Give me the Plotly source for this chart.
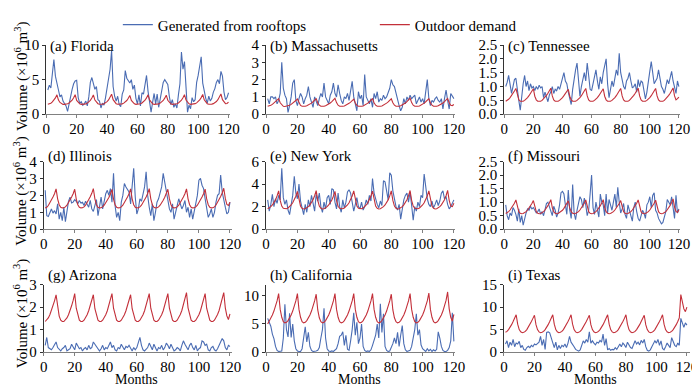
import plotly.graph_objects as go
from plotly.subplots import make_subplots

months = list(range(1, 121))

# ---------------- data (values x 10^6 m^3) ----------------
florida_gen = [3.5, 4.2, 3.8, 6.5, 7.9, 5.5, 4.2, 3.5, 2.5, 2.8, 1.9, 1.5,
               1.2, 0.4, 1.6, 2.3, 3.6, 4.4, 4.8, 4.9, 2.4, 1.6, 1.8, 1.3,
               1.5, 1.9, 1.2, 2.5, 4.6, 5.3, 4.2, 3.6, 4.0, 2.1, 1.9, 0.9,
               1.6, 1.3, 2.4, 4.0, 4.9, 6.5, 9.2, 4.0, 2.6, 1.9, 2.6, 1.4,
               1.1, 2.9, 3.5, 6.3, 5.2, 4.8, 4.5, 5.0, 3.6, 4.2, 2.3, 1.5,
               2.8, 1.2, 3.1, 2.9, 4.4, 5.6, 3.3, 1.8, 0.3, 1.7, 3.0, 1.5,
               2.9, 1.0, 2.2, 3.9, 4.6, 5.0, 4.7, 4.3, 2.6, 1.4, 2.1, 1.0,
               1.5, 0.9, 2.8, 4.4, 9.0, 6.5, 7.6, 4.3, 0.3, 1.3, 0.8, 2.4,
               1.8, 2.1, 4.6, 5.6, 7.2, 8.3, 4.5, 3.2, 2.3, 1.6, 2.6, 1.9,
               2.3, 3.2, 3.7, 4.6, 5.0, 4.4, 6.2, 5.5, 3.2, 2.1, 2.4, 3.1]
florida_dem = [1.45, 1.5, 1.6, 1.78, 2.0, 2.35, 2.8, 2.05, 1.7, 1.5, 1.42, 1.42,
               1.45, 1.52, 1.62, 1.8, 2.02, 2.38, 2.82, 2.0, 1.68, 1.5, 1.43, 1.42,
               1.44, 1.5, 1.6, 1.77, 2.0, 2.34, 2.78, 2.04, 1.7, 1.52, 1.44, 1.43,
               1.46, 1.52, 1.63, 1.82, 2.06, 2.42, 2.9, 2.1, 1.72, 1.52, 1.44, 1.43,
               1.45, 1.5, 1.6, 1.76, 1.98, 2.3, 2.72, 2.0, 1.68, 1.5, 1.42, 1.42,
               1.45, 1.51, 1.62, 1.79, 2.02, 2.36, 2.8, 2.06, 1.7, 1.5, 1.43, 1.42,
               1.44, 1.5, 1.6, 1.77, 1.99, 2.32, 2.75, 2.02, 1.68, 1.5, 1.42, 1.42,
               1.45, 1.52, 1.63, 1.8, 2.03, 2.38, 2.82, 2.05, 1.7, 1.51, 1.43, 1.43,
               1.46, 1.53, 1.64, 1.82, 2.06, 2.4, 2.86, 2.08, 1.72, 1.52, 1.44, 1.43,
               1.46, 1.53, 1.65, 1.84, 2.1, 2.46, 2.92, 2.1, 1.74, 1.52, 1.56, 1.75]

massachusetts_gen = [0.9, 0.6, 1.0, 1.0, 0.9, 1.0, 0.6, 0.8, 1.2, 3.0, 1.5, 1.1,
                     0.9, 0.1, 0.5, 1.0, 1.8, 2.0, 0.8, 0.5, 0.9, 1.2, 1.0, 0.6,
                     0.9, 1.1, 1.6, 1.0, 0.7, 0.4, 1.0, 0.8, 0.5, 0.9, 1.2, 1.0,
                     1.8, 1.0, 0.8, 0.6, 1.1, 1.3, 1.8, 1.2, 1.0, 1.7, 1.2, 0.8,
                     0.6, 1.0, 0.9, 1.2, 0.8, 1.4, 1.9, 1.0, 0.5, 0.2, 1.3, 0.9,
                     1.1, 0.5, 2.3, 1.0, 0.8, 0.6, 0.9, 0.4, 1.2, 0.9, 1.3, 0.7,
                     0.9, 0.8, 1.1, 0.9, 1.0, 1.2, 1.5, 2.0, 1.7, 1.6, 1.2, 0.8,
                     0.5, 0.2, 0.4, 0.9, 0.6, 1.0, 0.8, 1.1, 0.9, 1.0, 1.1, 0.6,
                     0.8, 1.0, 0.7, 0.9, 0.6, 1.4, 2.0, 0.9, 0.5, 0.8, 0.7, 0.9,
                     1.0, 0.8, 0.7, 0.9, 0.3, 0.9, 1.4, 0.8, 0.3, 1.2, 1.0, 0.9]
massachusetts_dem = [0.46, 0.48, 0.52, 0.57, 0.64, 0.72, 0.8, 0.9, 0.66, 0.52, 0.46, 0.45,
                     0.46, 0.48, 0.52, 0.57, 0.63, 0.71, 0.79, 0.88, 0.65, 0.51, 0.46, 0.45,
                     0.46, 0.49, 0.53, 0.58, 0.64, 0.72, 0.8, 0.9, 0.66, 0.52, 0.46, 0.45,
                     0.46, 0.49, 0.53, 0.58, 0.65, 0.73, 0.82, 0.92, 0.67, 0.52, 0.46, 0.45,
                     0.46, 0.48, 0.52, 0.57, 0.63, 0.7, 0.78, 0.87, 0.65, 0.51, 0.46, 0.45,
                     0.46, 0.48, 0.52, 0.57, 0.64, 0.72, 0.8, 0.9, 0.66, 0.52, 0.46, 0.45,
                     0.46, 0.48, 0.52, 0.57, 0.64, 0.71, 0.8, 0.89, 0.66, 0.52, 0.46, 0.45,
                     0.46, 0.49, 0.53, 0.58, 0.65, 0.73, 0.83, 0.93, 0.67, 0.52, 0.46, 0.45,
                     0.46, 0.48, 0.52, 0.57, 0.64, 0.72, 0.8, 0.9, 0.66, 0.52, 0.46, 0.45,
                     0.46, 0.49, 0.53, 0.58, 0.65, 0.73, 0.82, 0.91, 0.66, 0.52, 0.5, 0.56]

tennessee_gen = [1.0, 1.15, 1.4, 1.1, 0.75, 1.0, 1.25, 1.3, 0.8, 0.5, 0.15, 0.7,
                 1.1, 1.4, 1.0, 1.2, 0.85, 1.1, 0.95, 1.0, 0.85, 1.0, 0.9, 1.05,
                 0.95, 1.0, 0.6, 0.8, 0.65, 0.45, 0.7, 0.8, 1.0, 0.75, 0.9, 0.85,
                 1.0, 0.9, 1.1, 1.35, 1.5, 1.2, 1.1, 0.8, 0.6, 0.35, 0.9, 1.3,
                 1.6, 1.85, 1.2, 0.65, 1.0, 1.3, 1.5, 1.2, 1.85, 1.4, 0.9, 0.85,
                 1.1, 1.3, 1.6, 1.2, 0.9, 1.35, 1.1, 1.5, 1.7, 2.0, 1.1, 0.6,
                 0.9, 1.2, 1.0, 1.35, 1.6, 1.4, 2.2, 1.5, 1.25, 1.0, 0.9, 1.2,
                 1.3, 1.5, 1.2, 0.95, 1.0, 1.1, 0.8, 1.25, 1.0, 1.2, 1.15, 0.9,
                 0.55, 0.8, 1.3, 1.55, 1.9, 1.4, 1.1, 1.2, 1.3, 1.6, 1.35, 1.0,
                 0.9, 0.75, 1.0, 1.25, 1.1, 1.3, 1.55, 1.2, 0.95, 0.75, 1.2, 1.0]
tennessee_dem = [0.47, 0.5, 0.54, 0.6, 0.67, 0.75, 0.84, 0.93, 0.66, 0.52, 0.47, 0.46,
                 0.47, 0.5, 0.54, 0.6, 0.67, 0.75, 0.83, 0.92, 0.65, 0.52, 0.47, 0.46,
                 0.47, 0.5, 0.55, 0.61, 0.68, 0.76, 0.85, 0.94, 0.66, 0.52, 0.47, 0.46,
                 0.47, 0.5, 0.54, 0.6, 0.67, 0.74, 0.82, 0.9, 0.65, 0.52, 0.47, 0.46,
                 0.47, 0.5, 0.54, 0.6, 0.67, 0.75, 0.84, 0.93, 0.66, 0.52, 0.47, 0.46,
                 0.47, 0.5, 0.54, 0.6, 0.67, 0.75, 0.83, 0.92, 0.65, 0.52, 0.47, 0.46,
                 0.47, 0.5, 0.54, 0.6, 0.67, 0.75, 0.84, 0.93, 0.66, 0.52, 0.47, 0.46,
                 0.47, 0.5, 0.55, 0.61, 0.68, 0.76, 0.85, 0.94, 0.66, 0.52, 0.47, 0.46,
                 0.47, 0.5, 0.54, 0.6, 0.67, 0.75, 0.84, 0.93, 0.66, 0.52, 0.47, 0.46,
                 0.47, 0.5, 0.55, 0.61, 0.68, 0.76, 0.85, 0.95, 0.66, 0.52, 0.56, 0.62]

illinois_gen = [2.3, 0.8, 0.75, 1.0, 1.2, 0.95, 1.1, 0.9, 1.5, 0.6, 1.0, 0.5,
                1.3, 0.45, 1.2, 1.65, 1.9, 1.55, 1.6, 1.75, 1.65, 1.5, 1.7, 1.55,
                1.6, 1.4, 1.65, 1.5, 1.3, 1.7, 1.2, 1.05, 1.5, 1.75, 0.8, 1.3,
                1.9, 1.2, 1.6, 2.1, 2.3, 2.0, 2.4, 1.6, 3.3, 1.4, 0.7, 1.0,
                0.5, 1.6, 2.0, 2.7, 2.5, 2.3, 2.2, 1.5, 2.4, 3.6, 1.9, 0.9,
                1.2, 1.8, 1.65, 2.0, 2.5, 3.4, 2.0, 1.3, 0.8, 1.5, 0.5, 1.0,
                1.6, 1.8, 2.2, 2.5, 3.3, 2.8, 2.3, 1.6, 1.2, 1.0, 1.5, 0.6,
                1.1, 1.4, 1.8, 1.5, 1.2, 1.4, 1.7, 1.0, 1.3, 0.7, 1.2, 0.6,
                1.0, 1.5, 2.0, 2.9, 3.0, 2.6, 2.4, 1.8, 1.2, 0.7, 0.9, 1.2,
                0.7, 1.0, 1.6, 2.0, 2.1, 3.2, 2.2, 1.65, 1.3, 0.9, 1.0, 1.6]
illinois_dem = [1.25, 1.3, 1.4, 1.55, 1.72, 1.9, 2.1, 2.38, 1.8, 1.45, 1.3, 1.26,
                1.27, 1.32, 1.42, 1.56, 1.72, 1.9, 2.1, 2.36, 1.78, 1.45, 1.3, 1.26,
                1.27, 1.32, 1.42, 1.56, 1.73, 1.92, 2.12, 2.4, 1.8, 1.45, 1.3, 1.26,
                1.27, 1.32, 1.42, 1.55, 1.71, 1.88, 2.08, 2.35, 1.78, 1.44, 1.3, 1.26,
                1.27, 1.32, 1.42, 1.56, 1.72, 1.9, 2.1, 2.38, 1.8, 1.45, 1.3, 1.26,
                1.27, 1.32, 1.42, 1.56, 1.72, 1.91, 2.11, 2.4, 1.8, 1.45, 1.3, 1.26,
                1.27, 1.32, 1.42, 1.55, 1.71, 1.89, 2.09, 2.36, 1.79, 1.45, 1.3, 1.26,
                1.27, 1.32, 1.42, 1.56, 1.72, 1.9, 2.1, 2.38, 1.8, 1.45, 1.3, 1.26,
                1.27, 1.32, 1.42, 1.56, 1.72, 1.9, 2.1, 2.37, 1.79, 1.45, 1.3, 1.26,
                1.27, 1.32, 1.43, 1.57, 1.74, 1.93, 2.14, 2.42, 1.82, 1.46, 1.4, 1.6]

newyork_gen = [2.6, 1.6, 2.2, 3.1, 2.0, 2.7, 2.3, 3.0, 2.6, 5.4, 2.8, 2.2,
               2.6, 1.7, 1.3, 2.0, 3.0, 4.7, 3.2, 2.7, 4.0, 2.5, 1.8, 1.3,
               2.2, 1.5, 2.6, 2.0, 3.0, 2.4, 1.6, 3.1, 2.5, 3.2, 2.0, 1.5,
               2.4, 1.8, 2.8, 3.0, 2.2, 3.6, 3.5, 2.4, 1.8, 3.2, 2.0, 1.5,
               2.6, 1.9, 2.4, 3.3, 3.5, 3.2, 2.4, 1.6, 2.2, 2.8, 2.0, 1.8,
               2.4, 1.7, 2.0, 2.6, 2.2, 3.0, 2.5, 4.5, 3.2, 2.6, 2.2, 1.9,
               2.5, 2.1, 4.3, 4.2, 3.5, 2.6, 5.0, 4.8, 3.4, 2.5, 2.0, 1.7,
               2.2, 0.9, 1.8, 2.6, 3.0, 3.2, 2.4, 3.3, 2.1, 0.8, 2.0, 1.6,
               2.4, 2.0, 3.0, 2.8, 4.9, 3.6, 2.7, 2.2, 2.0, 2.5, 1.9, 2.2,
               2.6, 2.1, 2.5, 3.2, 3.4, 2.7, 2.9, 2.2, 1.8, 2.0, 2.4, 2.6]
newyork_dem = [1.82, 1.88, 2.0, 2.15, 2.35, 2.6, 2.95, 3.4, 2.55, 2.05, 1.85, 1.8,
               1.82, 1.88, 2.0, 2.15, 2.35, 2.6, 2.93, 3.36, 2.53, 2.04, 1.85, 1.8,
               1.82, 1.88, 2.0, 2.16, 2.36, 2.62, 2.97, 3.42, 2.56, 2.05, 1.85, 1.8,
               1.82, 1.88, 2.0, 2.15, 2.34, 2.59, 2.93, 3.35, 2.53, 2.04, 1.85, 1.8,
               1.82, 1.88, 2.0, 2.15, 2.35, 2.6, 2.95, 3.4, 2.55, 2.05, 1.85, 1.8,
               1.82, 1.88, 2.0, 2.15, 2.35, 2.6, 2.94, 3.38, 2.54, 2.05, 1.85, 1.8,
               1.82, 1.88, 2.0, 2.15, 2.35, 2.6, 2.95, 3.4, 2.55, 2.05, 1.85, 1.8,
               1.82, 1.88, 2.0, 2.16, 2.36, 2.62, 2.97, 3.43, 2.56, 2.05, 1.85, 1.8,
               1.82, 1.88, 2.0, 2.15, 2.35, 2.6, 2.95, 3.4, 2.55, 2.05, 1.85, 1.8,
               1.82, 1.88, 2.0, 2.16, 2.36, 2.62, 2.97, 3.44, 2.56, 2.05, 2.0, 2.3]

missouri_gen = [0.9, 0.5, 0.35, 0.6, 0.5, 0.8, 0.7, 0.55, 0.3, 0.75, 0.25, 0.5,
                0.15, 0.4, 0.6, 0.75, 0.7, 0.85, 0.75, 0.8, 0.7, 0.6, 0.65, 0.75,
                0.55, 0.65, 0.5, 0.7, 0.95, 1.0, 0.8, 0.6, 0.5, 0.85, 0.7, 0.45,
                0.6, 0.9, 1.35, 1.4, 1.3, 0.9, 0.55, 1.45, 0.7, 0.4, 1.65, 0.6,
                0.35, 0.7, 1.0, 1.2, 1.1, 0.8, 1.15, 0.9, 0.5, 0.7, 1.3, 2.0,
                0.8, 0.55, 1.0, 0.7, 0.45, 1.3, 1.0, 0.9, 0.5, 1.3, 0.6, 1.1,
                0.9, 0.7, 1.0, 1.3, 0.8, 1.55, 1.0, 0.6, 0.75, 0.95, 0.55, 0.4,
                0.9, 0.7, 0.45, 0.3, 0.8, 1.0, 0.65, 0.4, 0.3, 0.55, 0.7, 0.6,
                0.4, 0.9, 1.0, 1.2, 0.8, 1.25, 1.35, 0.7, 0.6, 0.4, 0.3, 0.2,
                0.25, 0.45, 0.65, 1.1, 1.0, 0.9, 1.2, 0.7, 0.4, 1.25, 0.6, 0.75]
missouri_dem = [0.58, 0.61, 0.65, 0.71, 0.78, 0.87, 0.96, 1.08, 0.8, 0.65, 0.59, 0.57,
                0.58, 0.61, 0.65, 0.71, 0.78, 0.86, 0.95, 1.06, 0.79, 0.65, 0.59, 0.57,
                0.58, 0.61, 0.65, 0.71, 0.78, 0.87, 0.97, 1.09, 0.8, 0.65, 0.59, 0.57,
                0.58, 0.61, 0.65, 0.7, 0.77, 0.86, 0.95, 1.05, 0.79, 0.65, 0.59, 0.57,
                0.58, 0.61, 0.65, 0.71, 0.78, 0.87, 0.96, 1.08, 0.8, 0.65, 0.59, 0.57,
                0.58, 0.61, 0.65, 0.71, 0.78, 0.87, 0.97, 1.09, 0.8, 0.65, 0.59, 0.57,
                0.58, 0.61, 0.65, 0.71, 0.78, 0.86, 0.95, 1.06, 0.79, 0.65, 0.59, 0.57,
                0.58, 0.61, 0.65, 0.71, 0.78, 0.87, 0.96, 1.08, 0.8, 0.65, 0.59, 0.57,
                0.58, 0.61, 0.65, 0.71, 0.78, 0.87, 0.96, 1.07, 0.8, 0.65, 0.59, 0.57,
                0.58, 0.61, 0.65, 0.72, 0.79, 0.88, 0.99, 1.12, 0.82, 0.66, 0.62, 0.72]

arizona_gen = [0.3, 0.65, 0.2, 0.15, 0.1, 0.2, 0.3, 0.45, 0.2, 0.1, 0.05, 0.15,
               0.2, 0.3, 0.05, 0.1, 0.15, 0.35, 0.2, 0.1, 0.4, 0.3, 0.15, 0.2,
               0.05, 0.15, 0.2, 0.1, 0.3, 0.15, 0.2, 0.45, 0.35, 0.2, 0.1, 0.05,
               0.15, 0.3, 0.1, 0.2, 0.15, 0.35, 0.45, 0.2, 0.3, 0.1, 0.05, 0.2,
               0.15, 0.35, 0.2, 0.1, 0.25, 0.2, 0.3, 0.15, 0.05, 0.2, 0.1, 0.2,
               0.4, 0.65, 0.3, 0.1, 0.05, 0.15, 0.2, 0.4, 0.25, 0.1, 0.35, 0.15,
               0.05, 0.2, 0.15, 0.3, 0.1, 0.2, 0.4, 0.3, 0.15, 0.35, 0.2, 0.05,
               0.1, 0.2, 0.15, 0.05, 0.3, 0.5, 0.35, 0.2, 0.1, 0.3, 0.4, 0.2,
               0.1, 0.3, 0.05, 0.15, 0.2, 0.5, 0.45, 0.3, 0.35, 0.1, 0.05, 0.2,
               0.25, 0.1, 0.05, 0.15, 0.3, 0.45, 0.6, 0.5, 0.2, 0.1, 0.3, 0.25]
arizona_dem = [1.36, 1.42, 1.52, 1.66, 1.84, 2.05, 2.28, 2.55, 1.93, 1.6, 1.42, 1.36,
               1.36, 1.42, 1.52, 1.66, 1.84, 2.06, 2.3, 2.6, 1.95, 1.6, 1.42, 1.36,
               1.36, 1.42, 1.52, 1.66, 1.84, 2.05, 2.28, 2.55, 1.93, 1.6, 1.42, 1.36,
               1.36, 1.42, 1.52, 1.66, 1.84, 2.06, 2.3, 2.6, 1.95, 1.6, 1.42, 1.36,
               1.36, 1.42, 1.52, 1.66, 1.84, 2.05, 2.28, 2.55, 1.93, 1.6, 1.42, 1.36,
               1.36, 1.42, 1.52, 1.66, 1.84, 2.06, 2.3, 2.6, 1.95, 1.6, 1.42, 1.36,
               1.36, 1.42, 1.52, 1.66, 1.84, 2.06, 2.3, 2.6, 1.95, 1.6, 1.42, 1.36,
               1.36, 1.42, 1.53, 1.67, 1.85, 2.08, 2.33, 2.65, 1.97, 1.61, 1.42, 1.36,
               1.36, 1.42, 1.52, 1.66, 1.84, 2.06, 2.3, 2.6, 1.95, 1.6, 1.42, 1.36,
               1.36, 1.42, 1.53, 1.67, 1.85, 2.08, 2.33, 2.65, 1.97, 1.61, 1.45, 1.7]

california_gen = [6.0, 5.3, 4.6, 3.2, 2.4, 1.0, 0.3, 0.1, 0.1, 0.2, 2.5, 8.5,
                  4.0, 2.7, 6.9, 2.6, 5.0, 2.0, 0.6, 0.2, 0.1, 0.1, 0.6, 2.8,
                  4.5, 1.8, 3.5, 1.0, 0.3, 0.1, 0.1, 0.2, 0.3, 0.8, 2.5, 4.0,
                  7.8, 2.5, 0.6, 0.2, 0.1, 0.2, 0.1, 0.3, 0.6, 1.5, 2.8, 3.0,
                  3.6, 1.2, 3.0, 0.5, 0.3, 2.0, 4.0, 7.0, 3.0, 5.3, 1.5, 2.5,
                  5.0, 1.0, 0.3, 0.1, 0.2, 0.1, 0.4, 1.2, 2.0, 3.0, 5.0, 2.5,
                  8.6, 3.5, 6.8, 1.0, 0.3, 0.1, 0.2, 0.8, 1.5, 2.5, 1.5, 3.5,
                  1.0, 3.0, 4.7, 1.5, 0.4, 0.1, 0.2, 0.3, 1.0, 2.5, 4.0, 6.8,
                  3.0, 4.0, 1.3, 0.6, 0.3, 0.1, 0.6, 0.2, 0.5, 0.1, 0.4, 0.2,
                  0.5, 3.6, 2.5, 1.0, 0.3, 0.1, 0.1, 0.3, 0.8, 2.0, 7.0, 1.9]
california_dem = [5.0, 5.5, 6.0, 6.6, 7.3, 8.1, 9.1, 10.4, 7.6, 6.2, 5.4, 5.2,
                  5.3, 5.6, 6.0, 6.6, 7.3, 8.1, 9.1, 10.4, 7.6, 6.2, 5.4, 5.2,
                  5.3, 5.6, 6.0, 6.6, 7.3, 8.1, 9.1, 10.3, 7.5, 6.1, 5.4, 5.2,
                  5.3, 5.6, 6.0, 6.6, 7.3, 8.1, 9.1, 10.4, 7.6, 6.2, 5.4, 5.2,
                  5.3, 5.6, 6.0, 6.6, 7.3, 8.1, 9.1, 10.4, 7.6, 6.2, 5.4, 5.2,
                  5.3, 5.6, 6.0, 6.6, 7.3, 8.1, 9.1, 10.4, 7.6, 6.2, 5.4, 5.2,
                  5.3, 5.6, 6.0, 6.6, 7.3, 8.1, 9.1, 10.3, 7.5, 6.1, 5.4, 5.2,
                  5.3, 5.6, 6.0, 6.6, 7.3, 8.1, 9.1, 10.4, 7.6, 6.2, 5.4, 5.2,
                  5.3, 5.6, 6.0, 6.6, 7.3, 8.1, 9.1, 10.5, 7.6, 6.2, 5.4, 5.2,
                  5.3, 5.6, 6.0, 6.6, 7.3, 8.1, 9.2, 10.7, 7.7, 6.2, 5.5, 6.7]

texas_gen = [1.8, 2.5, 1.0, 2.2, 1.5, 2.8, 1.2, 2.0, 1.8, 2.4, 1.0, 1.5,
             0.6, 0.4, 1.0, 1.3, 1.0, 1.5, 1.2, 1.8, 1.6, 2.0, 2.2, 3.5,
             1.5, 2.8, 0.6, 4.4, 4.5, 4.3, 3.0, 2.0, 1.0, 2.2, 0.5, 1.5,
             0.8, 1.5, 1.2, 1.8, 1.0, 2.0, 3.5, 2.2, 1.8, 1.2, 0.6, 0.3,
             0.2, 0.5, 1.5, 2.5, 2.0, 2.8, 2.2, 4.5, 2.0, 2.5, 2.0, 1.6,
             2.2, 2.0, 2.6, 2.2, 4.0, 1.5, 3.0, 0.5, 0.8, 0.4, 0.6, 0.5,
             1.0, 0.6, 1.2, 1.8, 1.2, 2.0, 1.6, 1.0, 2.2, 1.5, 1.0, 0.8,
             1.5, 2.5, 1.8, 2.2, 1.6, 2.6, 2.0, 2.8, 1.2, 0.4, 0.2, 0.5,
             1.2, 1.8, 2.5, 2.0, 2.8, 1.5, 2.5, 0.8, 0.5, 1.2, 2.0, 1.5,
             1.0, 3.2, 2.5, 1.5, 1.2, 2.0, 1.5, 7.5, 6.5, 5.5, 6.5, 6.0]
texas_dem = [4.4, 4.6, 5.0, 5.5, 6.1, 6.8, 7.5, 8.3, 6.2, 5.0, 4.5, 4.3,
             4.4, 4.6, 5.0, 5.5, 6.1, 6.8, 7.5, 8.2, 6.1, 5.0, 4.5, 4.3,
             4.4, 4.6, 5.0, 5.5, 6.1, 6.8, 7.5, 8.3, 6.2, 5.0, 4.5, 4.3,
             4.4, 4.6, 5.0, 5.5, 6.1, 6.8, 7.5, 8.3, 6.2, 5.0, 4.5, 4.3,
             4.4, 4.6, 5.0, 5.5, 6.1, 6.8, 7.5, 8.2, 6.1, 5.0, 4.5, 4.3,
             4.4, 4.6, 5.0, 5.5, 6.1, 6.8, 7.5, 8.3, 6.2, 5.0, 4.5, 4.3,
             4.4, 4.6, 5.0, 5.5, 6.1, 6.8, 7.5, 8.3, 6.2, 5.0, 4.5, 4.3,
             4.4, 4.6, 5.0, 5.5, 6.1, 6.8, 7.5, 8.2, 6.1, 5.0, 4.5, 4.3,
             4.4, 4.6, 5.0, 5.5, 6.1, 6.8, 7.5, 8.3, 6.2, 5.0, 4.5, 4.3,
             4.4, 4.6, 5.0, 5.5, 6.1, 6.8, 7.6, 12.8, 11.0, 9.6, 9.0, 10.0]

titles = ["(a) Florida", "(b) Massachusetts", "(c) Tennessee",
          "(d) Illinois", "(e) New York", "(f) Missouri",
          "(g) Arizona", "(h) California", "(i) Texas"]
gen_series = [florida_gen, massachusetts_gen, tennessee_gen, illinois_gen, newyork_gen,
              missouri_gen, arizona_gen, california_gen, texas_gen]
dem_series = [florida_dem, massachusetts_dem, tennessee_dem, illinois_dem, newyork_dem,
              missouri_dem, arizona_dem, california_dem, texas_dem]
y_max = [10, 4, 2.5, 4, 6, 2.5, 3, 12, 15]
y_ticks = [[0, 5, 10], [0, 1, 2, 3, 4], [0, 0.5, 1, 1.5, 2, 2.5],
           [0, 1, 2, 3, 4], [0, 2, 4, 6], [0, 0.5, 1, 1.5, 2, 2.5],
           [0, 1, 2, 3], [0, 5, 10], [0, 5, 10, 15]]
y_fmt = ["d", "d", ".1f", "d", "d", ".1f", "d", "d", "d"]
x_ticks = [0, 20, 40, 60, 80, 100, 120]

# ---------------- layout geometry (pixels) ----------------
W, H = 700, 386
x_px = [(35, 222.5), (259.3, 452.5), (502.3, 682),
        (32.3, 224), (259.3, 452.5), (502.3, 682),
        (32.3, 224), (259.3, 452.5), (502, 691.8)]
x_max = [121, 121, 121, 121, 121, 121, 121, 121, 122]
row_px = [(29.3, 101.7), (151.2, 222), (280, 350.5)]
title_y = [31, 146, 270]
ylab_y = [62, 182, 310]

BLUE = "#4a6cb3"
RED = "#c3303a"
FONT = "Liberation Serif"

fig = make_subplots(rows=3, cols=3)

for i in range(9):
    r, c = i // 3 + 1, i % 3 + 1
    fig.add_trace(go.Scatter(x=months, y=gen_series[i], mode="lines",
                             line=dict(color=BLUE, width=1.1),
                             name="Generated from rooftops", legendgroup="g",
                             showlegend=(i == 0)), row=r, col=c)
    fig.add_trace(go.Scatter(x=months, y=dem_series[i], mode="lines",
                             line=dict(color=RED, width=1.1),
                             name="Outdoor demand", legendgroup="d",
                             showlegend=(i == 0)), row=r, col=c)
    x0, x1 = x_px[i]
    top, bot = row_px[r - 1]
    fig.update_xaxes(domain=[x0 / W, x1 / W], range=[0, x_max[i]], tickvals=x_ticks,
                     showgrid=False, zeroline=False, showline=True, linecolor="#808080",
                     linewidth=1, ticks="outside", ticklen=3, tickcolor="#808080",
                     ticklabelstandoff=-2,
                     tickfont=dict(family=FONT, size=15, color="black"),
                     row=r, col=c)
    fig.update_yaxes(domain=[1 - bot / H, 1 - top / H], range=[0, y_max[i]],
                     tickvals=y_ticks[i], tickformat=y_fmt[i],
                     showgrid=False, zeroline=False, showline=True, linecolor="#333333",
                     linewidth=1, ticks="outside", ticklen=3, tickcolor="#333333",
                     tickfont=dict(family=FONT, size=15, color="black"),
                     row=r, col=c)
    fig.add_annotation(text=titles[i], xref="paper", yref="paper",
                       x=(x0 + 2) / W, y=1 - title_y[r - 1] / H,
                       xanchor="left", yanchor="middle", showarrow=False,
                       font=dict(family=FONT, size=15, color="black"))
    if r == 3:
        fig.add_annotation(text="Months", xref="paper", yref="paper",
                           x=(x0 + (x1 - x0) * 120 / x_max[i] / 2) / W, y=1 - 379 / H,
                           xanchor="center", yanchor="middle", showarrow=False,
                           font=dict(family=FONT, size=14, color="black"))

for r in range(3):
    fig.add_annotation(text="Volume (×10<sup>6</sup> m<sup>3</sup>)", xref="paper", yref="paper",
                       x=9 / W, y=1 - ylab_y[r] / H, textangle=-90,
                       xanchor="center", yanchor="middle", showarrow=False,
                       font=dict(family=FONT, size=15, color="black"))

fig.update_layout(
    width=W, height=H, margin=dict(l=0, r=0, t=0, b=0),
    paper_bgcolor="white", plot_bgcolor="white",
    font=dict(family=FONT, size=15, color="black"),
    legend=dict(orientation="h", x=108 / W, y=1 + 9 / H, xanchor="left", yanchor="top",
                font=dict(family=FONT, size=15, color="black"),
                entrywidth=212, entrywidthmode="pixels",
                bgcolor="rgba(0,0,0,0)", borderwidth=0),
)

fig.write_html("out.html")
